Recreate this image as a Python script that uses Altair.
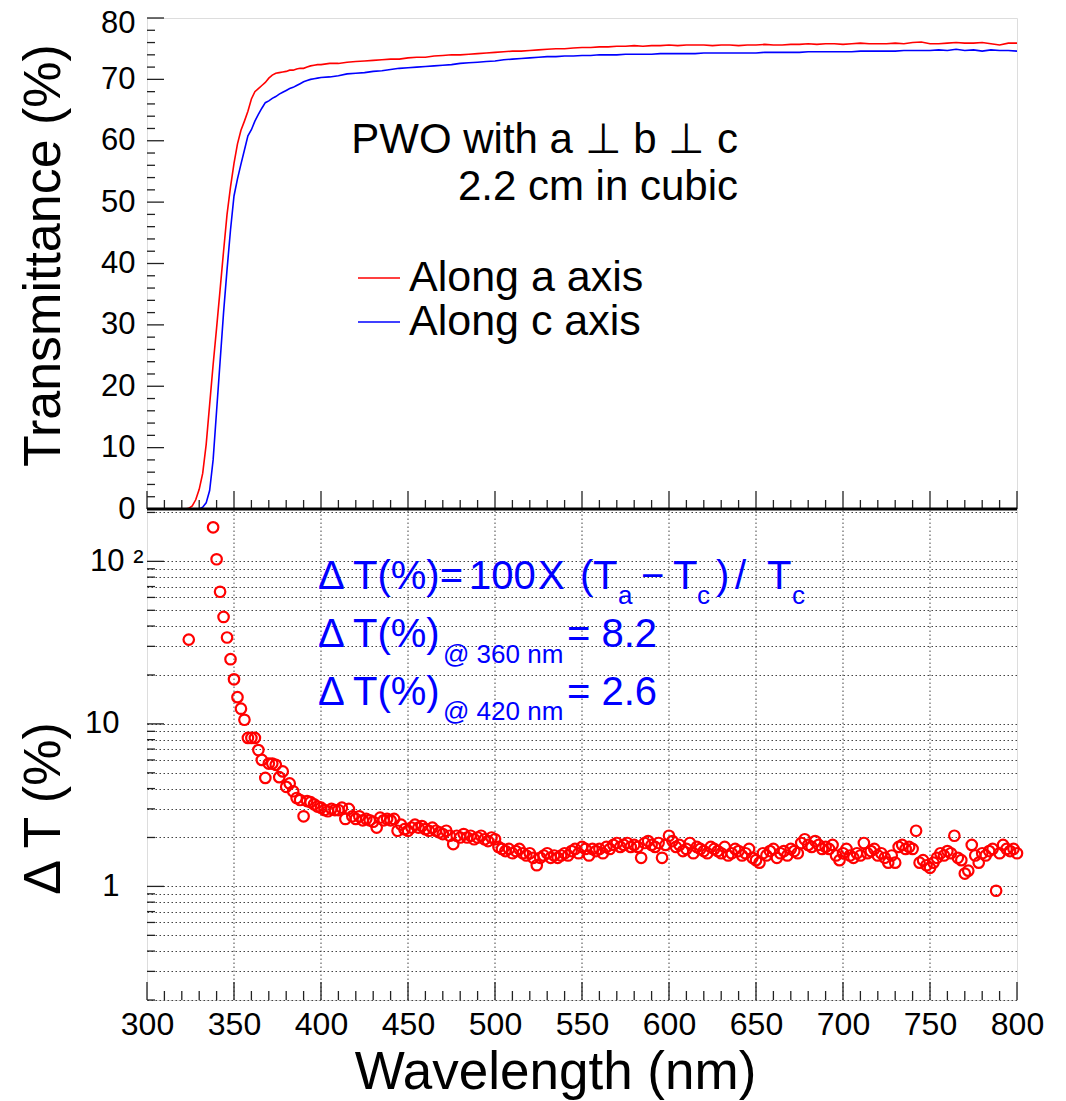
import altair as alt
import pandas as pd

# ---------------- data ----------------
wl_T = [300, 305, 310, 315, 320] + list(range(322, 401, 2)) + list(range(405, 801, 5))

T_a = [0, 0, 0, 0, 0,
       0.0, 0.1, 0.5, 1.5, 3.2, 5.8, 10.5, 17.0, 23.5, 29.5,
       35.7, 42.0, 48.0, 52.5, 56.3, 59.5, 61.7, 63.2, 64.8, 66.8,
       68.0, 68.5, 69.0, 69.5, 70.2, 70.7, 71.0, 71.1, 71.2, 71.3,
       71.5, 71.5, 71.7, 71.8, 71.8, 72.0, 72.2, 72.3, 72.4, 72.4,
       72.6, 72.6, 72.8, 72.9, 73.0, 73.1, 73.2, 73.3, 73.3, 73.5,
       73.6, 73.6, 73.8, 73.9, 74.0, 74.0, 74.1, 74.2, 74.3, 74.4,
       74.5, 74.6, 74.6, 74.7, 74.8, 74.9, 75.0, 75.0, 75.1, 75.2,
       75.2, 75.3, 75.3, 75.4, 75.4, 75.5, 75.4, 75.5, 75.5, 75.6,
       75.5, 75.6, 75.6, 75.6, 75.5, 75.6, 75.6, 75.5, 75.6, 75.6,
       75.7, 75.6, 75.6, 75.7, 75.7, 75.8, 75.7, 75.8, 75.8, 75.7,
       75.8, 75.9, 75.8, 75.8, 75.8, 75.9, 75.8, 76.0, 76.1, 75.8,
       75.8, 75.9, 76.0, 75.9, 75.9, 76.0, 75.8, 75.6, 75.9, 75.9]

T_c = [0, 0, 0, 0, 0,
       0.0, 0.0, 0.0, 0.0, 0.0, 0.3, 1.0, 3.0, 8.0, 16.0,
       24.0, 32.0, 39.0, 45.5, 51.0, 53.8, 56.2, 58.5, 60.8, 61.8,
       63.2, 64.3, 65.3, 66.2, 66.5, 66.9, 67.2, 67.6, 67.9, 68.2,
       68.5, 68.7, 69.0, 69.3, 69.6, 69.8, 70.0, 70.1, 70.2, 70.3,
       70.4, 70.6, 70.9, 71.0, 71.1, 71.3, 71.4, 71.6, 71.8, 71.9,
       72.0, 72.1, 72.2, 72.3, 72.4, 72.6, 72.7, 72.8, 72.9, 73.0,
       73.2, 73.3, 73.4, 73.5, 73.6, 73.7, 73.7, 73.8, 73.8, 73.9,
       73.9, 74.0, 74.0, 74.0, 74.1, 74.1, 74.1, 74.1, 74.2, 74.2,
       74.2, 74.2, 74.2, 74.3, 74.3, 74.3, 74.3, 74.3, 74.3, 74.3,
       74.4, 74.4, 74.4, 74.4, 74.4, 74.5, 74.5, 74.5, 74.5, 74.5,
       74.5, 74.6, 74.6, 74.6, 74.6, 74.6, 74.7, 74.7, 74.7, 74.7,
       74.8, 74.7, 74.9, 74.7, 74.8, 74.6, 74.8, 74.7, 74.7, 74.6]

wl_D = [324] + list(range(338, 801, 2))
dT = [33,
      162,
      103, 65, 45.5, 34, 25,
      18.8, 14.6, 12.4, 10.6, 8.2,
      8.2, 8.2, 6.9, 6.0, 4.65,
      5.7, 5.7, 5.6, 4.7, 5.1,
      4.1, 4.3, 3.85, 3.5, 3.4,
      2.7, 3.35, 3.3, 3.2, 3.1,
      3.05, 2.95, 2.9, 3.0, 2.95,
      2.95, 3.05, 2.6, 3.0, 2.7,
      2.6, 2.7, 2.55, 2.6, 2.55,
      2.5, 2.3, 2.65, 2.55, 2.6,
      2.55, 2.6, 2.2, 2.4, 2.25,
      2.2, 2.3, 2.4, 2.3, 2.35,
      2.25, 2.2, 2.3, 2.2, 2.15,
      2.1, 2.2, 2.05, 1.82, 2.05,
      2.0, 2.1, 2.0, 2.05, 1.95,
      2.0, 2.05, 1.95, 1.9, 2.0,
      1.95, 1.75, 1.7, 1.65, 1.7,
      1.6, 1.65, 1.7, 1.6, 1.55,
      1.6, 1.5, 1.35, 1.5, 1.55,
      1.6, 1.5, 1.55, 1.5, 1.55,
      1.6, 1.55, 1.65, 1.7, 1.6,
      1.75, 1.7, 1.55, 1.7, 1.65,
      1.7, 1.6, 1.75, 1.7, 1.8,
      1.85, 1.75, 1.8, 1.85, 1.75,
      1.8, 1.75, 1.5, 1.85, 1.9,
      1.8, 1.75, 1.85, 1.5, 1.8,
      2.05, 1.9, 1.75, 1.8, 1.65,
      1.7, 1.85, 1.6, 1.75, 1.7,
      1.65, 1.6, 1.75, 1.7, 1.65,
      1.6, 1.75, 1.55, 1.6, 1.7,
      1.65, 1.55, 1.6, 1.7, 1.5,
      1.45, 1.4, 1.6, 1.55, 1.65,
      1.7, 1.5, 1.6, 1.65, 1.55,
      1.7, 1.65, 1.6, 1.85, 1.95,
      1.8, 1.75, 1.9, 1.8, 1.7,
      1.75, 1.7, 1.8, 1.55, 1.45,
      1.6, 1.7, 1.55, 1.5, 1.6,
      1.55, 1.85, 1.6, 1.65, 1.7,
      1.55, 1.6, 1.5, 1.4, 1.55,
      1.4, 1.75, 1.8, 1.7, 1.75,
      1.7, 2.2, 1.4, 1.45, 1.35,
      1.3, 1.4, 1.5, 1.6, 1.55,
      1.65, 1.6, 2.05, 1.5, 1.45,
      1.2, 1.25, 1.8, 1.55, 1.4,
      1.6, 1.55, 1.65, 1.7, 0.94,
      1.6, 1.8, 1.7, 1.65, 1.7,
      1.6]

series_names = ["Along a axis", "Along c axis"]
series_colors = ["#ff0000", "#0000ff"]

# axis tick values / labels
x_major = [300, 350, 400, 450, 500, 550, 600, 650, 700, 750, 800]
x_minor = [v for v in range(310, 800, 10) if v % 50 != 0]
x_grid = [350, 400, 450, 500, 550, 600, 650, 700, 750]
top_y_major = [0, 10, 20, 30, 40, 50, 60, 70, 80]
top_y_minor = [v for v in range(2, 80, 2) if v % 10 != 0]
bot_y_major = [1, 10, 100]
bot_y_minor = [0.2, 0.3, 0.4, 0.5, 0.6, 0.7, 0.8, 0.9,
               2, 3, 4, 5, 6, 7, 8, 9,
               20, 30, 40, 50, 60, 70, 80, 90, 200]
bot_y_grid = sorted(bot_y_major + bot_y_minor)

assert len(wl_T) == len(T_a) == len(T_c)
assert len(wl_D) == len(dT)

df_T = pd.DataFrame({
    "wl": wl_T + wl_T,
    "T": T_a + T_c,
    "series": [series_names[0]] * len(wl_T) + [series_names[1]] * len(wl_T),
})
df_D = pd.DataFrame({"wl": wl_D, "dT": dT})

# ---------------- layout ----------------
W, H = 870, 982
HT = 491          # height of the upper panel
FONT = "Liberation Sans"
TICK_COLOR = "#222222"

xsc = alt.Scale(domain=[300, 800], nice=False, zero=False)
yT = alt.Scale(domain=[0, 80], range=[HT, 0], nice=False, zero=False)
yB = alt.Scale(type="log", domain=[0.2, 210], range=[H, HT], nice=False)

# one x axis definition, shared by every layer that uses the x scale
xaxis = alt.Axis(
    values=x_major, format="d", title="Wavelength (nm)",
    labelFont=FONT, labelFontSize=32, labelColor="black", labelPadding=9,
    labelFlush=False, labelOverlap=False,
    ticks=False, tickSize=0, domain=False, grid=False,
    titleFont=FONT, titleFontSize=53, titleFontWeight="normal", titleColor="black",
    titleX=408, titleY=88, titleBaseline="alphabetic", titleAlign="center",
)

# vertical grid in lower panel
xgrid = alt.Chart(pd.DataFrame({"v": x_grid})).mark_rule(
    color="#444444", strokeWidth=1, strokeDash=[1.5, 2.5]
).encode(
    x=alt.X("v:Q", scale=xsc, axis=xaxis),
    y=alt.Y(datum=0.2, scale=yB, axis=None),
    y2=alt.Y2(datum=210),
)

lines = alt.Chart(df_T).mark_line(strokeWidth=1.6).encode(
    x=alt.X("wl:Q", scale=xsc, axis=xaxis),
    y=alt.Y("T:Q", scale=yT, axis=alt.Axis(
        orient="left", values=top_y_major, format="d", title="Transmittance (%)",
        labelFont=FONT, labelFontSize=31, labelColor="black", labelPadding=12,
        labelOffset={"condition": {"test": "datum.value == 80", "value": 5}, "value": 0},
        labelOverlap=False,
        ticks=False, tickSize=0, domain=False, grid=False,
        titleFont=FONT, titleFontSize=52, titleFontWeight="normal", titleColor="black",
        titleX=-88, titleY=237, titleBaseline="alphabetic", titleAlign="center", titleAngle=270,
    )),
    color=alt.Color("series:N", scale=alt.Scale(domain=series_names, range=series_colors),
                    legend=alt.Legend(
                        title=None, orient="none", legendX=210, legendY=238,
                        symbolType="stroke", symbolSize=1764, symbolStrokeWidth=1.6,
                        labelFont=FONT, labelFontSize=43, labelColor="black",
                        labelOffset=8, rowPadding=0, padding=0, labelLimit=600,
                    )),
    order=alt.Order("wl:Q"),
)

points = alt.Chart(df_D).mark_point(
    shape="circle", filled=False, color="#ff0000", size=110, strokeWidth=2.2, opacity=1
).encode(
    x=alt.X("wl:Q", scale=xsc, axis=xaxis),
    y=alt.Y("dT:Q", scale=yB, axis=alt.Axis(
        orient="left", values=bot_y_grid, title="Δ T (%)",
        labelExpr="datum.value == 1 ? '1' : (datum.value == 10 ? '10' : (datum.value == 100 ? '10 ²' : ''))",
        labelFont=FONT, labelFontSize=31, labelColor="black",
        labelPadding={"condition": {"test": "datum.value == 100", "value": 4}, "value": 28},
        labelOverlap=False,
        ticks=False, tickSize=0, domain=False,
        grid=True, gridColor="#444444", gridWidth=1, gridDash=[1.5, 2.5], gridOpacity=1,
        titleFont=FONT, titleFontSize=52, titleFontWeight="normal", titleColor="black",
        titleX=-88, titleY=790, titleBaseline="alphabetic", titleAlign="center", titleAngle=270,
    )),
)


def yticks(vals, scale, length):
    return alt.Chart(pd.DataFrame({"v": vals})).mark_rule(
        color=TICK_COLOR, strokeWidth=1.3
    ).encode(
        y=alt.Y("v:Q", scale=scale, axis=None),
        x=alt.value(0), x2=alt.value(length),
    )


def xticks(vals, base, length):
    return alt.Chart(pd.DataFrame({"v": vals})).mark_rule(
        color=TICK_COLOR, strokeWidth=1.3
    ).encode(
        x=alt.X("v:Q", scale=xsc, axis=xaxis),
        y=alt.value(base), y2=alt.value(base - length),
    )


ticks = [
    yticks(top_y_major, yT, 17), yticks(top_y_minor, yT, 8),
    yticks(bot_y_major, yB, 17), yticks(bot_y_minor, yB, 8),
    xticks(x_major, H, 18), xticks(x_minor, H, 9),
    xticks(x_major, HT, 18), xticks(x_minor, HT, 9),
]

separator = alt.Chart(pd.DataFrame({"a": [0]})).mark_rule(color="black", strokeWidth=3).encode(
    x=alt.X(datum=300, scale=xsc, axis=xaxis),
    x2=alt.X2(datum=800),
    y=alt.Y(datum=0, scale=yT, axis=None),
)

# annotation texts (pixel positions inside the plot area)
ann_black = pd.DataFrame({
    "t": ["PWO with a ⊥ b ⊥ c", "2.2 cm in cubic"],
    "px": [591, 591], "py": [135, 182], "fs": [42, 42],
})
MAIN, SUB = 40, 26
blue_pieces = [
    ("Δ", 171, 571, MAIN), ("T(%)=", 206, 571, MAIN), ("100", 322, 571, MAIN),
    ("X", 391, 571, MAIN), ("(", 433, 571, MAIN), ("T", 446, 571, MAIN),
    ("a", 471, 586, SUB), ("−", 494, 571, MAIN), ("T", 526, 571, MAIN),
    ("c", 550, 586, SUB), (")", 569, 571, MAIN), ("/", 588, 571, MAIN),
    ("T", 620, 571, MAIN), ("c", 645, 586, SUB),
    ("Δ", 171, 629, MAIN), ("T(%)", 206, 629, MAIN), ("@ 360 nm", 296, 645, SUB),
    ("= 8.2", 420, 629, MAIN),
    ("Δ", 171, 687, MAIN), ("T(%)", 206, 687, MAIN), ("@ 420 nm", 296, 702, SUB),
    ("= 2.6", 420, 687, MAIN),
]
ann_blue = pd.DataFrame(blue_pieces, columns=["t", "px", "py", "fs"])

text_black = alt.Chart(ann_black).mark_text(
    font=FONT, color="black", align="right", baseline="alphabetic"
).encode(
    x=alt.X("px:Q", scale=None, axis=None), y=alt.Y("py:Q", scale=None, axis=None),
    text="t:N", size=alt.Size("fs:Q", scale=None, legend=None),
)
text_blue = alt.Chart(ann_blue).mark_text(
    font=FONT, color="#0000ff", align="left", baseline="alphabetic"
).encode(
    x=alt.X("px:Q", scale=None, axis=None), y=alt.Y("py:Q", scale=None, axis=None),
    text="t:N", size=alt.Size("fs:Q", scale=None, legend=None),
)

chart = alt.layer(
    xgrid, lines, points, *ticks, separator, text_black, text_blue
).resolve_scale(
    y="independent", x="shared", size="independent"
).properties(
    width=W, height=H,
    autosize=alt.AutoSizeParams(type="none"),
    padding={"left": 139, "top": 10, "right": 40, "bottom": 100},
).configure_view(
    stroke="black", strokeWidth=2
).configure(background="white")

chart.save("out.html", embed_options={"renderer": "svg", "actions": False})
